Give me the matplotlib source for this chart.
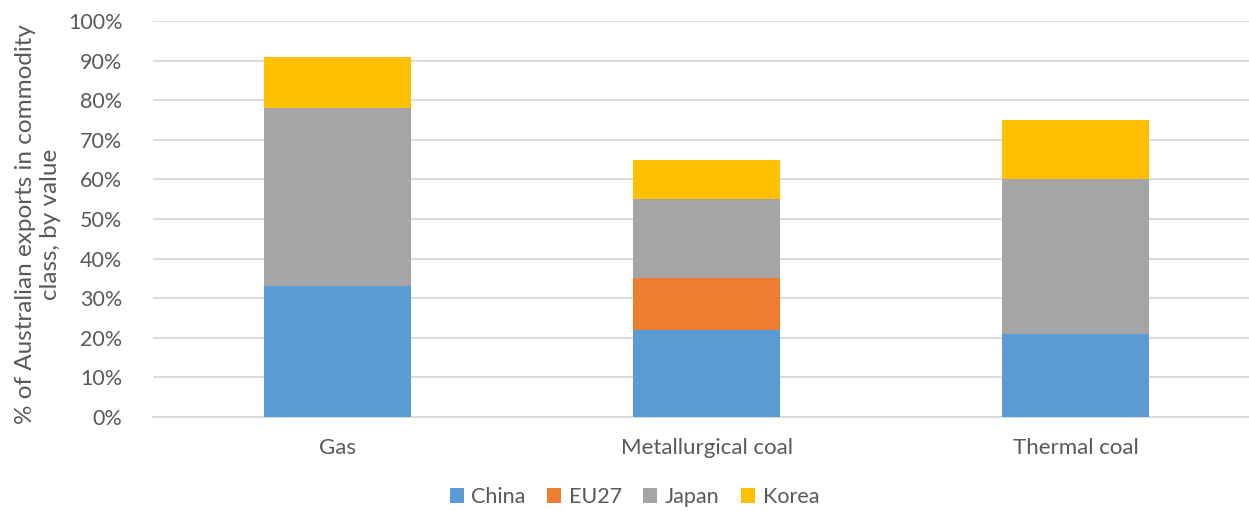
import numpy as np
import matplotlib
matplotlib.use("Agg")
import matplotlib.pyplot as plt
from matplotlib.ticker import PercentFormatter

plt.rcParams["font.family"] = ["Lato", "DejaVu Sans"]

categories = ["Gas", "Metallurgical coal", "Thermal coal"]
china = [33, 22, 21]
eu27 = [0, 13, 0]
japan = [45, 20, 39]
korea = [13, 10, 15]

series = [("China", china, "#5B9BD5"), ("EU27", eu27, "#ED7D31"),
          ("Japan", japan, "#A5A5A5"), ("Korea", korea, "#FFC000")]
TXT = "#595959"
GRID = "#D9D9D9"

fig = plt.figure(figsize=(12.49, 5.11), dpi=100)
ax = fig.add_axes([153 / 1249, 94 / 511, 1 - 153 / 1249, (417 - 21) / 511])

x = np.arange(len(categories))
bottom = np.zeros(len(categories))
for name, vals, col in series:
    ax.bar(x, vals, 0.4, bottom=bottom, color=col, label=name, zorder=3)
    bottom += np.array(vals)

ax.set_ylim(0, 100)
ax.set_xlim(-0.5, 2.47)
ax.set_yticks(np.arange(0, 101, 10))
ax.yaxis.set_major_formatter(PercentFormatter(decimals=0))
ax.set_xticks(x)
ax.set_xticklabels(categories, fontsize=16)
ax.grid(axis="y", color=GRID, lw=1.3, zorder=0)
for s in ["top", "right", "left"]:
    ax.spines[s].set_visible(False)
ax.spines["bottom"].set_color(GRID)
ax.spines["bottom"].set_linewidth(1.3)
ax.tick_params(axis="both", length=0, labelsize=15.5, colors=TXT)
ax.tick_params(axis="x", labelsize=16, pad=15)
ax.tick_params(axis="y", pad=22)

fig.text(0.0305, 94 / 511 + (417 - 21) / 511 / 2 - 0.01,
         "% of Australian exports in commodity\nclass, by value",
         rotation=90, ha="center", va="center", fontsize=17.5, color=TXT,
         linespacing=1.2)

leg = fig.legend(loc="lower center", bbox_to_anchor=(0.508, -0.03), ncol=4,
                 frameon=False, fontsize=15.5, handlelength=0.65, handleheight=0.65,
                 handletextpad=0.35, columnspacing=1.0)
for t in leg.get_texts():
    t.set_color(TXT)

fig.savefig("out.png", dpi=100)
